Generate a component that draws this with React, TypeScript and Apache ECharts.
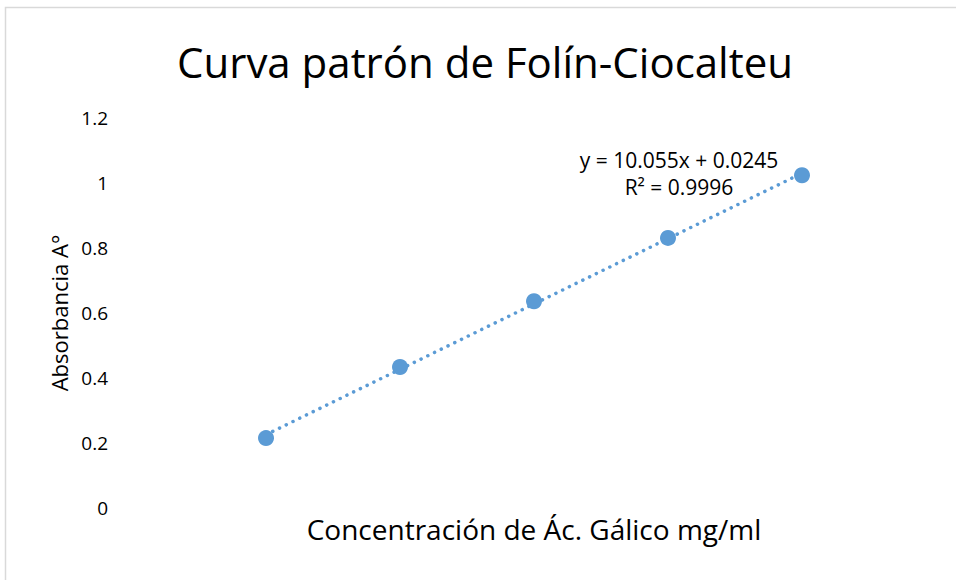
import React, { useEffect, useRef } from "react";
import * as echarts from "echarts";

const concentrations = [0.02, 0.04, 0.06, 0.08, 0.1];
const absorbances = [0.215, 0.434, 0.636, 0.831, 1.024];
const trendSlope = 10.055;
const trendIntercept = 0.0245;
const trendRange = [0.02, 0.1];
const yTicks = [0, 0.2, 0.4, 0.6, 0.8, 1, 1.2];
const titleText = "Curva patrón de Folín-Ciocalteu";
const xName = "Concentración de Ác. Gálico mg/ml";
const yName = "Absorbancia A°";
const equationLines = ["y = 10.055x + 0.0245", "R² = 0.9996"];

const FONT = "'Open Sans', 'Noto Sans', sans-serif";
const BLUE = "#5b9bd5";

export default function App() {
  const ref = useRef<HTMLDivElement>(null);
  useEffect(() => {
    if (!ref.current) return;
    const chart = echarts.init(ref.current, undefined, { renderer: "svg" });
    const points = concentrations.map((x, i) => [x, absorbances[i]]);
    const trend = trendRange.map((x) => [x, trendSlope * x + trendIntercept]);
    chart.setOption({
      animation: false,
      backgroundColor: "#ffffff",
      grid: { left: 132, right: 20, top: 118, bottom: 72 },
      xAxis: {
        type: "value",
        min: 0,
        max: 0.12,
        name: xName,
        nameLocation: "middle",
        nameGap: 7,
        nameTextStyle: { fontFamily: FONT, fontSize: 28, color: "#000" },
        axisLine: { show: false },
        axisTick: { show: false },
        axisLabel: { show: false },
        splitLine: { show: false },
      },
      yAxis: {
        type: "value",
        min: yTicks[0],
        max: yTicks[yTicks.length - 1],
        interval: 0.2,
        name: yName,
        nameLocation: "middle",
        nameGap: 62,
        nameTextStyle: { fontFamily: FONT, fontSize: 22, color: "#000" },
        axisLine: { show: false },
        axisTick: { show: false },
        splitLine: { show: false },
        axisLabel: {
          margin: 24,
          fontFamily: FONT,
          fontSize: 19,
          color: "#000",
          formatter: (v: number) => String(parseFloat(v.toFixed(1))),
        },
      },
      series: [
        {
          type: "line",
          data: trend,
          symbol: "none",
          lineStyle: { color: BLUE, width: 3.5, type: [0.1, 7.4], cap: "round" },
          z: 1,
        },
        {
          type: "scatter",
          data: points,
          symbolSize: 16,
          itemStyle: { color: BLUE, opacity: 1 },
          z: 2,
        },
      ],
      graphic: [
        {
          type: "rect",
          shape: { x: 5.5, y: 7.5, width: 1000, height: 1000 },
          style: { fill: "none", stroke: "#d9d9d9", lineWidth: 1.5 },
          silent: true,
        },
        {
          type: "text",
          x: 485,
          y: 61,
          style: {
            text: titleText,
            fontFamily: FONT,
            fontSize: 42,
            fill: "#000",
            align: "center",
            verticalAlign: "middle",
          },
        },
        {
          type: "text",
          x: 679,
          y: 160,
          style: {
            text: equationLines[0],
            fontFamily: FONT,
            fontSize: 21,
            fill: "#000",
            align: "center",
            verticalAlign: "middle",
          },
        },
        {
          type: "text",
          x: 679,
          y: 187,
          style: {
            text: equationLines[1],
            fontFamily: FONT,
            fontSize: 21,
            fill: "#000",
            align: "center",
            verticalAlign: "middle",
          },
        },
      ],
    });
    return () => chart.dispose();
  }, []);
  return (
    <div
      ref={ref}
      style={{ position: "fixed", left: 0, top: 0, width: 956, height: 580 }}
    />
  );
}
